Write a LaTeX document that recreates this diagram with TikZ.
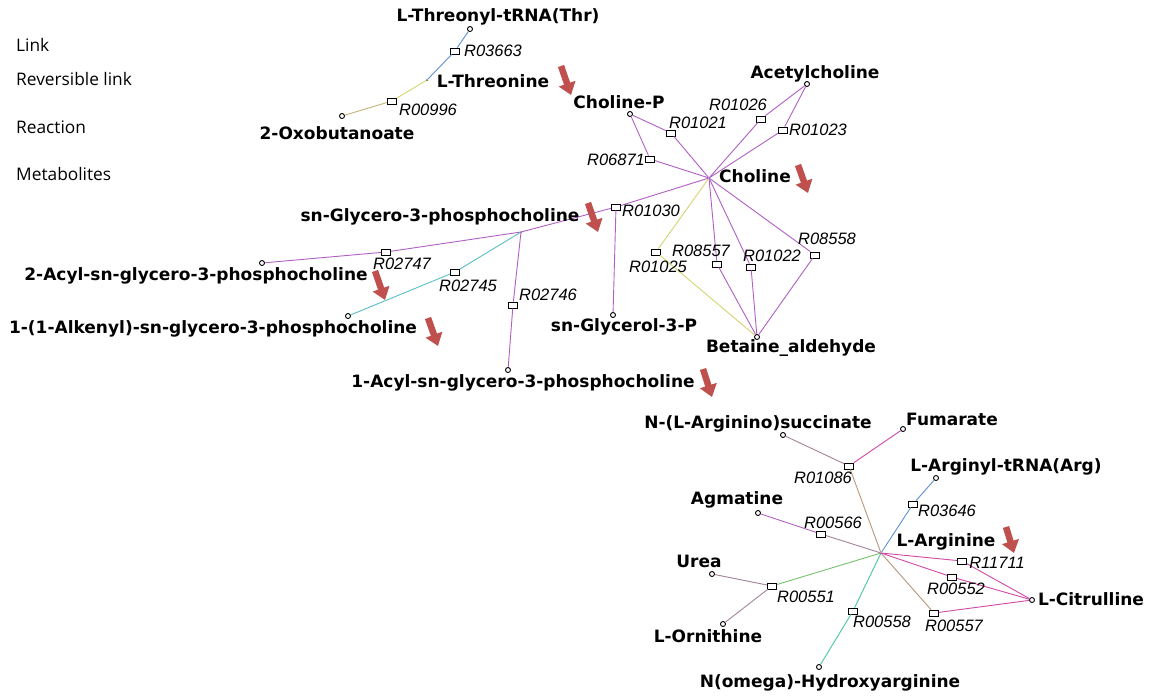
\documentclass[tikz,border=0pt]{standalone}
\usepackage{fontspec}
\usepackage{tikz}
\usetikzlibrary{arrows.meta}
\newfontfamily\metfont{DejaVu Sans}
\newfontfamily\rxnfont{Liberation Sans}
\newfontfamily\legfont{Open Sans}
\definecolor{pur}{RGB}{176,96,196}
\definecolor{mag}{RGB}{208,72,168}
\definecolor{blu}{RGB}{96,144,208}
\definecolor{tea}{RGB}{88,192,196}
\definecolor{aqu}{RGB}{72,200,168}
\definecolor{yel}{RGB}{212,214,112}
\definecolor{ocr}{RGB}{200,180,120}
\definecolor{grn}{RGB}{120,192,112}
\definecolor{gry}{RGB}{164,132,156}
\definecolor{tan}{RGB}{184,150,124}
\definecolor{arrred}{RGB}{192,80,77}

\begin{document}
\begin{tikzpicture}[x=1pt,y=-1pt,
    met/.style={circle,draw,line width=.9pt,inner sep=0pt,minimum size=5pt},
    rxn/.style={rectangle,draw,line width=.8pt,inner sep=0pt,minimum width=9pt,minimum height=6pt},
    hub/.style={circle,fill=black!70,inner sep=0pt,minimum size=2pt},
    mlab/.style={font=\metfont\bfseries\fontsize{17}{20}\selectfont,inner sep=0pt},
    rlab/.style={font=\rxnfont\itshape\fontsize{16.5}{19}\selectfont,inner sep=0pt},
    leg/.style={font=\legfont\fontsize{17.3}{20}\selectfont,inner sep=0pt,anchor=west},
    lnk/.style={line width=.9pt},
    redarr/.style={draw=arrred,line width=6.5pt,-{Triangle[width=17pt,length=12pt]}}]
        \useasboundingbox (0,0) rectangle (1149,697);
        \fill[white] (0,0) rectangle (1149,697);

        \node[leg] (lglink) at (16,45)  {Link};
        \node[leg] (lgrev)  at (16,79)  {Reversible link};
        \node[leg] (lgrxn)  at (16,127) {Reaction};
        \node[leg] (lgmet)  at (16,174) {Metabolites};

        \node[met] (thrtrna) at (470,29)  {};
        \node[rxn] (r03663)  at (455,51)  {};
        \node[hub] (thr)     at (427,80)  {};
        \node[rxn] (r00996)  at (392,101) {};
        \node[met] (oxob)    at (342,116) {};

        \node[met] (chop)    at (630,114) {};
        \node[rxn] (r01021)  at (671,133) {};
        \node[rxn] (r06871)  at (650,159) {};
        \node[hub,fill=pur!70!black] (cho) at (709,178) {};
        \node[met] (acch)    at (807,84)  {};
        \node[rxn] (r01026)  at (761,119) {};
        \node[rxn] (r01023)  at (783,130) {};
        \node[rxn] (r01030)  at (616,207) {};
        \node[met] (glyp)    at (613,315) {};
        \node[rxn] (r01025)  at (656,252) {};
        \node[rxn] (r08557)  at (717,264) {};
        \node[rxn] (r01022)  at (751,267) {};
        \node[rxn] (r08558)  at (815,255) {};
        \node[met] (betald)  at (757,337) {};

        \node[hub,fill=pur!70!black] (gpc) at (521,232) {};
        \node[rxn] (r02747)  at (386,252) {};
        \node[met] (acyl2)   at (262,263) {};
        \node[rxn] (r02745)  at (455,272) {};
        \node[met] (alk)     at (348,316) {};
        \node[rxn] (r02746)  at (513,305) {};
        \node[met] (acyl1)   at (508,370) {};

        \node[met] (argsucc) at (783,435) {};
        \node[met] (fum)     at (903,429) {};
        \node[rxn] (r01086)  at (849,466) {};
        \node[met] (argtrna) at (936,478) {};
        \node[rxn] (r03646)  at (913,504) {};
        \node[met] (agm)     at (758,513) {};
        \node[rxn] (r00566)  at (821,534) {};
        \node[hub,fill=mag!70!black] (arg) at (881,553) {};
        \node[met] (urea)    at (712,574) {};
        \node[rxn] (r00551)  at (772,586) {};
        \node[met] (orn)     at (723,624) {};
        \node[rxn] (r00558)  at (853,611) {};
        \node[met] (hydrox)  at (819,667) {};
        \node[rxn] (r00557)  at (934,613) {};
        \node[rxn] (r00552)  at (952,577) {};
        \node[rxn] (r11711)  at (962,561) {};
        \node[met] (citr)    at (1032,600) {};

        \draw[lnk,blu] (thr) -- (r03663) -- (thrtrna);
        \draw[lnk,yel] (thr) -- (r00996);
        \draw[lnk,ocr] (r00996) -- (oxob);

        \draw[lnk,pur] (cho) -- (r01021) -- (chop);
        \draw[lnk,pur] (cho) -- (r06871) -- (chop);
        \draw[lnk,pur] (cho) -- (r01026) -- (acch);
        \draw[lnk,pur] (cho) -- (r01023) -- (acch);
        \draw[lnk,pur] (cho) -- (r01030) -- (gpc);
        \draw[lnk,pur] (r01030) -- (glyp);
        \draw[lnk,yel] (cho) -- (r01025) -- (betald);
        \draw[lnk,pur] (cho) -- (r08557) -- (betald);
        \draw[lnk,pur] (cho) -- (r01022) -- (betald);
        \draw[lnk,pur] (cho) -- (r08558) -- (betald);

        \draw[lnk,pur] (gpc) -- (r02747) -- (acyl2);
        \draw[lnk,tea] (gpc) -- (r02745) -- (alk);
        \draw[lnk,pur] (gpc) -- (r02746) -- (acyl1);

        \draw[lnk,gry] (argsucc) -- (r01086);
        \draw[lnk,mag] (r01086) -- (fum);
        \draw[lnk,tan] (r01086) -- (arg);
        \draw[lnk,blu] (arg) -- (r03646) -- (argtrna);
        \draw[lnk,pur] (agm) -- (r00566);
        \draw[lnk,gry] (r00566) -- (arg);
        \draw[lnk,gry] (urea) -- (r00551);
        \draw[lnk,gry] (orn) -- (r00551);
        \draw[lnk,grn] (r00551) -- (arg);
        \draw[lnk,aqu] (arg) -- (r00558) -- (hydrox);
        \draw[lnk,tan] (arg) -- (r00557);
        \draw[lnk,mag] (r00557) -- (citr);
        \draw[lnk,mag] (arg) -- (r00552) -- (citr);
        \draw[lnk,mag] (arg) -- (r11711) -- (citr);

        \node[mlab] (thrtrnalab) at (498,17)  {L-Threonyl-tRNA(Thr)};
        \node[mlab] (thrlab)     at (493,81)  {L-Threonine};
        \node[mlab] (oxoblab)    at (337,133) {2-Oxobutanoate};
        \node[mlab] (choplab)    at (619,102) {Choline-P};
        \node[mlab] (acchlab)    at (815,74)  {Acetylcholine};
        \node[mlab] (cholab)     at (755,176) {Choline};
        \node[mlab] (gpclab)     at (440,217) {sn-Glycero-3-phosphocholine};
        \node[mlab] (acyl2lab)   at (196,276) {2-Acyl-sn-glycero-3-phosphocholine};
        \node[mlab] (alklab)     at (213,329) {1-(1-Alkenyl)-sn-glycero-3-phosphocholine};
        \node[mlab] (glyplab)    at (624,327) {sn-Glycerol-3-P};
        \node[mlab] (betaldlab)  at (791,348) {Betaine\_aldehyde};
        \node[mlab] (acyl1lab)   at (523,383) {1-Acyl-sn-glycero-3-phosphocholine};
        \node[mlab] (argsucclab) at (758,424) {N-(L-Arginino)succinate};
        \node[mlab] (fumlab)     at (952,419) {Fumarate};
        \node[mlab] (argtrnalab) at (1006,467) {L-Arginyl-tRNA(Arg)};
        \node[mlab] (agmlab)     at (737,500) {Agmatine};
        \node[mlab] (arglab)     at (946,542) {L-Arginine};
        \node[mlab] (urealab)    at (699,561) {Urea};
        \node[mlab] (citrlab)    at (1091,599) {L-Citrulline};
        \node[mlab] (ornlab)     at (708,636) {L-Ornithine};
        \node[mlab] (hydroxlab)  at (830,683) {N(omega)-Hydroxyarginine};

        \node[rlab] at (493,51)  {R03663};
        \node[rlab] at (428,110) {R00996};
        \node[rlab] at (698,123) {R01021};
        \node[rlab] at (738,105) {R01026};
        \node[rlab] at (818,130) {R01023};
        \node[rlab] at (616,160) {R06871};
        \node[rlab] at (651,211) {R01030};
        \node[rlab] at (658,267) {R01025};
        \node[rlab] at (701,251) {R08557};
        \node[rlab] at (772,256) {R01022};
        \node[rlab] at (827,239) {R08558};
        \node[rlab] at (402,264) {R02747};
        \node[rlab] at (468,286) {R02745};
        \node[rlab] at (548,295) {R02746};
        \node[rlab] at (823,478) {R01086};
        \node[rlab] at (947,511) {R03646};
        \node[rlab] at (833,523) {R00566};
        \node[rlab] at (997,563) {R11711};
        \node[rlab] at (956,589) {R00552};
        \node[rlab] at (806,597) {R00551};
        \node[rlab] at (882,622) {R00558};
        \node[rlab] at (954,626) {R00557};

        \draw[redarr] (561,66)  -- (571,95);
        \draw[redarr] (798,165) -- (808,193);
        \draw[redarr] (588,203) -- (598,232);
        \draw[redarr] (375,271) -- (385,300);
        \draw[redarr] (428,318) -- (438,346);
        \draw[redarr] (703,369) -- (712,397);
        \draw[redarr] (1006,527) -- (1014,553);
\end{tikzpicture}
\end{document}
